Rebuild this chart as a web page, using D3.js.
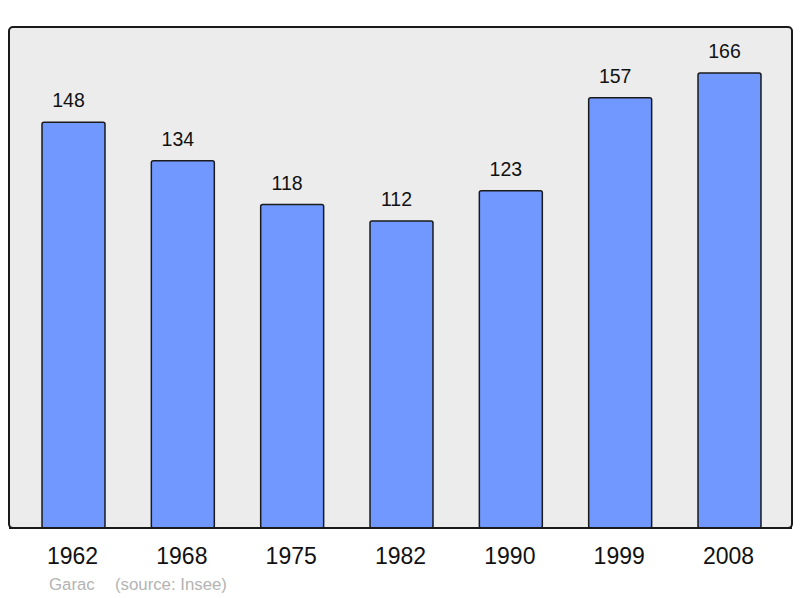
<!DOCTYPE html>
<html>
<head>
<meta charset="utf-8">
<script src="https://cdn.jsdelivr.net/npm/d3@7"></script>
<style>
  html, body { margin: 0; padding: 0; background: #ffffff; }
  svg { display: block; }
</style>
</head>
<body>
<svg id="chart" width="800" height="598"></svg>
<script>
const years = ["1962", "1968", "1975", "1982", "1990", "1999", "2008"];
const population = [148, 134, 118, 112, 123, 157, 166];
const commune = "Garac";
const sourceLabel = "(source: Insee)";

const svg = d3.select("#chart");
const fontFamily = "'Liberation Sans', Arial, sans-serif";

// panel
svg.append("rect")
  .attr("x", 9).attr("y", 27)
  .attr("width", 783).attr("height", 501)
  .attr("rx", 4).attr("ry", 4)
  .attr("fill", "#ececec")
  .attr("stroke", "#1a1a1a")
  .attr("stroke-width", 2);

const x = d3.scaleBand()
  .domain(years)
  .range([18.83, 784.17])
  .paddingInner(0.424)
  .paddingOuter(0.212);

const y = d3.scaleLinear()
  .domain([0, 166])
  .range([528, 73]);

const data = years.map((yr, i) => ({ year: yr, value: population[i] }));

svg.append("g").selectAll("rect")
  .data(data)
  .join("rect")
  .attr("x", d => x(d.year))
  .attr("y", d => y(d.value))
  .attr("width", x.bandwidth())
  .attr("height", d => y(0) - y(d.value))
  .attr("rx", 2).attr("ry", 2)
  .attr("fill", "#7098ff")
  .attr("stroke", "#1a1a1a")
  .attr("stroke-width", 1.5);

// re-draw bottom border on top of bars
svg.append("line")
  .attr("x1", 9).attr("x2", 792)
  .attr("y1", 528).attr("y2", 528)
  .attr("stroke", "#1a1a1a")
  .attr("stroke-width", 2);

svg.append("g").selectAll("text")
  .data(data)
  .join("text")
  .attr("x", d => x(d.year) + x.bandwidth() / 2 - 5)
  .attr("y", d => y(d.value) - 15)
  .attr("text-anchor", "middle")
  .attr("font-family", fontFamily)
  .attr("font-size", 19.5)
  .attr("fill", "#111")
  .text(d => d.value);

// x axis labels
const xAxis = d3.axisBottom(x).tickSize(0).tickPadding(0);
const gx = svg.append("g")
  .attr("transform", "translate(-1,548)")
  .call(xAxis);
gx.select(".domain").remove();
gx.selectAll("text")
  .attr("font-family", fontFamily)
  .attr("font-size", 23)
  .attr("fill", "#111")
  .attr("dy", "0.71em");

svg.append("text")
  .attr("x", 49).attr("y", 590)
  .attr("font-family", fontFamily)
  .attr("font-size", 16.8)
  .attr("fill", "#b3b3b3")
  .text(commune);

svg.append("text")
  .attr("x", 115).attr("y", 590)
  .attr("font-family", fontFamily)
  .attr("font-size", 16.8)
  .attr("fill", "#b3b3b3")
  .text(sourceLabel);
</script>
</body>
</html>
